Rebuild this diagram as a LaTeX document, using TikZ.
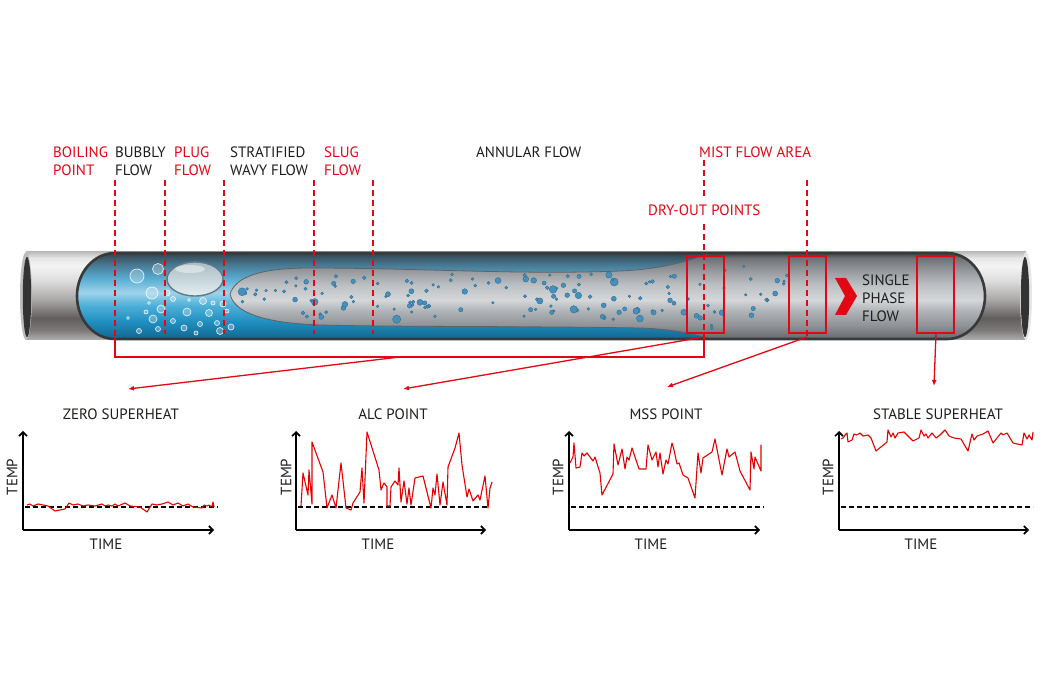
\documentclass[tikz,border=0pt]{standalone}
\usepackage{fontspec}
\setmainfont{PT Sans}
\usetikzlibrary{arrows.meta}
\definecolor{myred}{HTML}{E30613}
\definecolor{tblack}{HTML}{1D1D1B}
\definecolor{border}{HTML}{38393B}
\definecolor{bub}{HTML}{4591BB}
\definecolor{bubd}{HTML}{2A6A90}
\definecolor{plugtop}{HTML}{A9BCC5}
\definecolor{plugbot}{HTML}{E4EEF2}
\definecolor{plugrim}{HTML}{5E7A87}
% outer pipe colours
\definecolor{po0}{HTML}{BDBDBD}\definecolor{po1}{HTML}{E6E6E6}\definecolor{po2}{HTML}{F4F4F4}
\definecolor{po3}{HTML}{DEDEDE}\definecolor{po4}{HTML}{A9A6A6}\definecolor{po5}{HTML}{625E5E}
\definecolor{po6}{HTML}{7B7878}\definecolor{po7}{HTML}{B0B0B0}
% vapour colours
\definecolor{va0}{HTML}{3F4245}\definecolor{va1}{HTML}{6E7276}\definecolor{va2}{HTML}{8F9397}
\definecolor{va3}{HTML}{BFC2C5}\definecolor{va4}{HTML}{D4D6D8}\definecolor{va5}{HTML}{AEB2B5}
\definecolor{va6}{HTML}{8F9397}\definecolor{va7}{HTML}{65686B}
% liquid colours
\definecolor{li0}{HTML}{34434C}\definecolor{li1}{HTML}{46738C}\definecolor{li2}{HTML}{5AAED3}
\definecolor{li3}{HTML}{9FD3EA}\definecolor{li4}{HTML}{4FB0D8}\definecolor{li5}{HTML}{1F8EC0}
\definecolor{li6}{HTML}{12668F}
\pgfdeclareverticalshading{pipeouter}{100bp}{color(0bp)=(po7); color(25bp)=(po7); color(30.7bp)=(po6); color(37.5bp)=(po5); color(47.7bp)=(po4); color(59bp)=(po3); color(67bp)=(po2); color(71.6bp)=(po1); color(75bp)=(po0); color(100bp)=(po0)}
\pgfdeclareverticalshading{vapor}{100bp}{color(0bp)=(va7); color(25bp)=(va7); color(33bp)=(va6); color(41bp)=(va5); color(47.7bp)=(va4); color(56bp)=(va3); color(66bp)=(va2); color(72bp)=(va1); color(75bp)=(va0); color(100bp)=(va0)}
\pgfdeclareverticalshading{liquid}{100bp}{color(0bp)=(li6); color(25bp)=(li6); color(35bp)=(li5); color(44.6bp)=(li4); color(52bp)=(li3); color(60bp)=(li2); color(69bp)=(li1); color(75bp)=(li0); color(100bp)=(li0)}
\begin{document}
\begin{tikzpicture}[x=1pt,y=-1pt,
  lbl/.style={inner sep=0pt,font=\fontsize{15}{18}\selectfont,text=tblack,align=left},
  rlbl/.style={lbl,text=myred},
  ttl/.style={inner sep=0pt,font=\fontsize{15}{18}\selectfont,text=tblack},
  flowdash/.style={myred,line width=1.3pt,dash pattern=on 6pt off 4pt},
  redline/.style={myred,line width=1.3pt},
  redarrow/.style={myred,line width=1.3pt,-{Latex[length=6pt,width=5pt]}},
  redbox/.style={myred,line width=1.7pt},
  axis/.style={black,line width=1.6pt,-{Straight Barb[length=4pt,width=8pt,line width=1.6pt]}},
  refline/.style={black,line width=1.4pt,dash pattern=on 5pt off 3pt},
  trace/.style={red!90!black,line width=1.1pt,line join=round},
  bubble/.style={fill=bub,draw=bubd,line width=0.35pt},
  lbub/.style={fill=white,fill opacity=0.25,draw=white,draw opacity=0.8,line width=0.7pt}
]
\useasboundingbox (0,0) rectangle (1050,700);
\fill[white] (0,0) rectangle (1050,700);

% ---------- pipe ----------
\shade[shading=pipeouter] (26,252) rectangle (1026,340);
\fill[po0] (26,296) ellipse[x radius=6,y radius=44];
\fill[black!80] (27,297) ellipse[x radius=4.2,y radius=40];
\fill[po1] (1026,296) ellipse[x radius=6,y radius=44];
\fill[black!80] (1025,297) ellipse[x radius=4.2,y radius=40];

\def\innershape{(115,253) -- (947,253) arc[start angle=-90,end angle=90,x radius=38,y radius=43] -- (115,339) arc[start angle=90,end angle=270,x radius=38,y radius=43] -- cycle}
\begin{scope}
  \clip \innershape;
  \shade[shading=vapor] (70,253) rectangle (995,339);
  \shade[shading=liquid] (70,253) rectangle (720,339);
  \shade[shading=vapor] (230,294) .. controls (236,276) and (262,268) .. (310,268)
     .. controls (420,268) and (520,275) .. (620,271)
     .. controls (665,269) and (690,260) .. (712,253)
     -- (995,253) -- (995,339) -- (712,339)
     .. controls (690,333) and (670,329) .. (640,328)
     .. controls (520,326) and (400,327) .. (320,325)
     .. controls (262,323) and (234,312) .. (230,294) -- cycle;
  \draw[border!80,line width=0.8pt] (712,339)
     .. controls (690,333) and (670,329) .. (640,328)
     .. controls (520,326) and (400,327) .. (320,325)
     .. controls (262,323) and (234,312) .. (230,294)
     .. controls (236,276) and (262,268) .. (310,268)
     .. controls (420,268) and (520,275) .. (620,271)
     .. controls (665,269) and (690,260) .. (712,253);
  % vapour droplets
  \pgfmathsetseed{11}
  \foreach \i in {1,...,150}{
    \pgfmathsetmacro\bx{242+550*rnd}
    \pgfmathsetmacro\hh{\bx<310 ? 21*sqrt(max(0,(\bx-236)/74)) : (\bx>705 ? 31 : 23)}
    \pgfmathsetmacro\by{297+\hh*(2*rnd-1)}
    \pgfmathsetmacro\br{1.3+3*rnd*rnd}
    \path[bubble] (\bx,\by) circle[radius=\br pt];
  }
  % liquid bubbles
  \foreach \px/\py/\pr in {137/276/7,158/269/5.5,152/293/6,161/309/4,153/319/4,146/312/2,139/331/2.5,158/329/2.5,167/293/3,173/299/2.5,173/321/2.5,184/328/3,187/312/4,203/301/3.5,200/324/2.5,209/313/3.5,220/331/3.5,217/323/2.5,223/304/3,231/327/3,227/311/2,213/303/2,189/300/1.5,149/303/1.5,128/318/1.5,196/333/2}{
    \path[lbub] (\px,\py) circle[radius=\pr pt];
  }
  % plug bubble
  \shade[top color=plugtop,bottom color=plugbot,draw=plugrim,line width=1.4pt] (195,279) ellipse[x radius=28,y radius=17];
  \fill[white,opacity=0.45] (190,269) ellipse[x radius=15,y radius=4];
\end{scope}
\draw[line width=2.6pt,border] \innershape;

% chevron and single phase text
\fill[myred] (835,278) -- (846,278) -- (857,296) -- (846,315) -- (835,315) -- (845,296) -- cycle;
\node[lbl,anchor=west] (single) at (862,298) {SINGLE\\PHASE\\FLOW};

% ---------- red boxes ----------
\draw[redbox] (687,256) rectangle (724,333);
\draw[redbox] (789,256) rectangle (826,333);
\draw[redbox] (917,256) rectangle (954,333);
\coordinate (box3b) at (936,333);

% ---------- top labels ----------
\node[rlbl,anchor=west] (boil) at (53,161) {BOILING\\POINT};
\node[lbl,anchor=west] (bubbly) at (115,161) {BUBBLY\\FLOW};
\node[rlbl,anchor=west] (plug) at (174,161) {PLUG\\FLOW};
\node[lbl,anchor=west] (strat) at (230,161) {STRATIFIED\\WAVY FLOW};
\node[rlbl,anchor=west] (slug) at (324,161) {SLUG\\FLOW};
\node[lbl,anchor=west] (annular) at (476,152) {ANNULAR FLOW};
\node[rlbl,anchor=west] (mist) at (699,152) {MIST FLOW AREA};
\node[rlbl,anchor=west] (dry) at (648,210) {DRY-OUT POINTS};

% ---------- dashed flow boundaries ----------
\coordinate (d1t) at (115,180); \coordinate (d1b) at (115,337);
\draw[flowdash] (d1t) -- (d1b);
\draw[flowdash] (165,180) -- (165,334);
\draw[flowdash] (224,180) -- (224,334);
\draw[flowdash] (314,180) -- (314,334);
\draw[flowdash] (373,180) -- (373,334);
\draw[flowdash] (704,160) -- (704,196);
\coordinate (dryb) at (704,337);
\draw[flowdash] (704,224) -- (dryb);
\coordinate (mistb) at (807,337);
\draw[flowdash] (807,180) -- (mistb);

% bracket
\coordinate (brl) at (115,357); \coordinate (brr) at (704,357); \coordinate (brm) at (400,357);
\draw[redline] (d1b) -- (brl) -- (brr) -- (dryb);

% ---------- arrows ----------
\coordinate (a1) at (128,389);
\coordinate (a2) at (403,389);
\coordinate (a3) at (667,387);
\coordinate (a4) at (934,386);
\draw[redarrow] (brm) -- (a1);
\draw[redarrow] (dryb) -- (a2);
\draw[redarrow] (mistb) -- (a3);
\draw[redarrow] (box3b) -- (a4);

% ---------- graphs ----------
\node[ttl] (t1) at (121,414) {ZERO SUPERHEAT};
\node[ttl] (t2) at (393,414) {ALC POINT};
\node[ttl] (t3) at (666,414) {MSS POINT};
\node[ttl] (t4) at (938,414) {STABLE SUPERHEAT};

\foreach \ox/\xe/\tx/\ix/\nm in {23/214/12/106/g1, 296/486/286/378/g2, 569/760/558/651/g3, 839/1029/828/921/g4}{
  \coordinate (\nm o) at (\ox,530);
  \coordinate (\nm y) at (\ox,431);
  \coordinate (\nm x) at (\xe,530);
  \draw[refline] (\ox+2,507) -- (\xe+4,507);
  \draw[axis] (\nm o) -- (\nm y);
  \draw[axis] (\nm o) -- (\nm x);
  \node[ttl,rotate=90] (\nm temp) at (\tx,477) {TEMP};
  \node[ttl] (\nm time) at (\ix,544) {TIME};
}

\draw[trace] plot coordinates {(27,505) (30,504) (33,506) (38,504) (43,505) (48,506) (55,511) (65,509) (69,503) (73,505) (78,504) (83,506) (88,505) (95,506) (102,504) (105,506) (108,505) (112,506) (115,504) (118,506) (125,503) (130,506) (140,507) (147,512) (152,504) (157,505) (162,504) (168,502) (173,505) (178,503) (183,506) (188,504) (193,507) (202,508) (204,505) (207,506) (209,505) (212,507) (213,502) (214,507)};

\draw[trace] plot coordinates {(301,506) (303,473) (308,495) (309,470) (312,504) (312,442) (323,472) (327,508) (332,495) (336,508) (341,463) (346,508) (351,510) (353,503) (360,492) (362,468) (364,503) (367,432) (379,470) (381,490) (384,483) (387,487) (387,506) (390,506) (391,487) (395,481) (398,485) (399,468) (401,502) (404,481) (407,504) (409,488) (411,505) (415,478) (423,476) (431,508) (433,488) (435,495) (437,474) (440,505) (443,482) (447,505) (448,467) (455,448) (459,433) (462,465) (467,497) (469,489) (473,501) (478,495) (480,500) (485,476) (488,508) (490,488) (492,482)};

\draw[trace] plot coordinates {(570,463) (573,457) (574,443) (576,468) (580,467) (582,453) (584,456) (587,453) (593,461) (595,457) (600,473) (602,495) (613,474) (614,444) (618,465) (622,449) (625,469) (627,457) (629,460) (632,448) (639,469) (646,469) (648,445) (652,460) (656,452) (658,467) (660,453) (663,474) (666,460) (668,464) (672,443) (674,450) (677,464) (679,463) (683,475) (688,478) (695,498) (698,453) (701,473) (703,458) (712,452) (715,439) (722,475) (727,449) (729,457) (735,452) (740,471) (750,490) (751,452) (754,469) (755,457) (761,471) (761,445)};

\draw[trace] plot coordinates {(841,439) (843,438) (845,435) (847,433) (848,442) (852,440) (854,434) (857,435) (860,433) (863,436) (868,435) (871,438) (876,451) (887,442) (888,430) (891,437) (893,433) (895,438) (898,433) (904,432) (913,441) (919,438) (921,430) (924,436) (926,434) (928,438) (932,433) (936,438) (940,435) (945,430) (949,436) (954,438) (961,439) (968,451) (972,434) (974,440) (977,436) (983,434) (988,431) (993,443) (1001,433) (1003,435) (1007,433) (1013,443) (1022,445) (1024,433) (1027,439) (1029,435) (1032,440) (1033,432)};
\end{tikzpicture}
\end{document}
